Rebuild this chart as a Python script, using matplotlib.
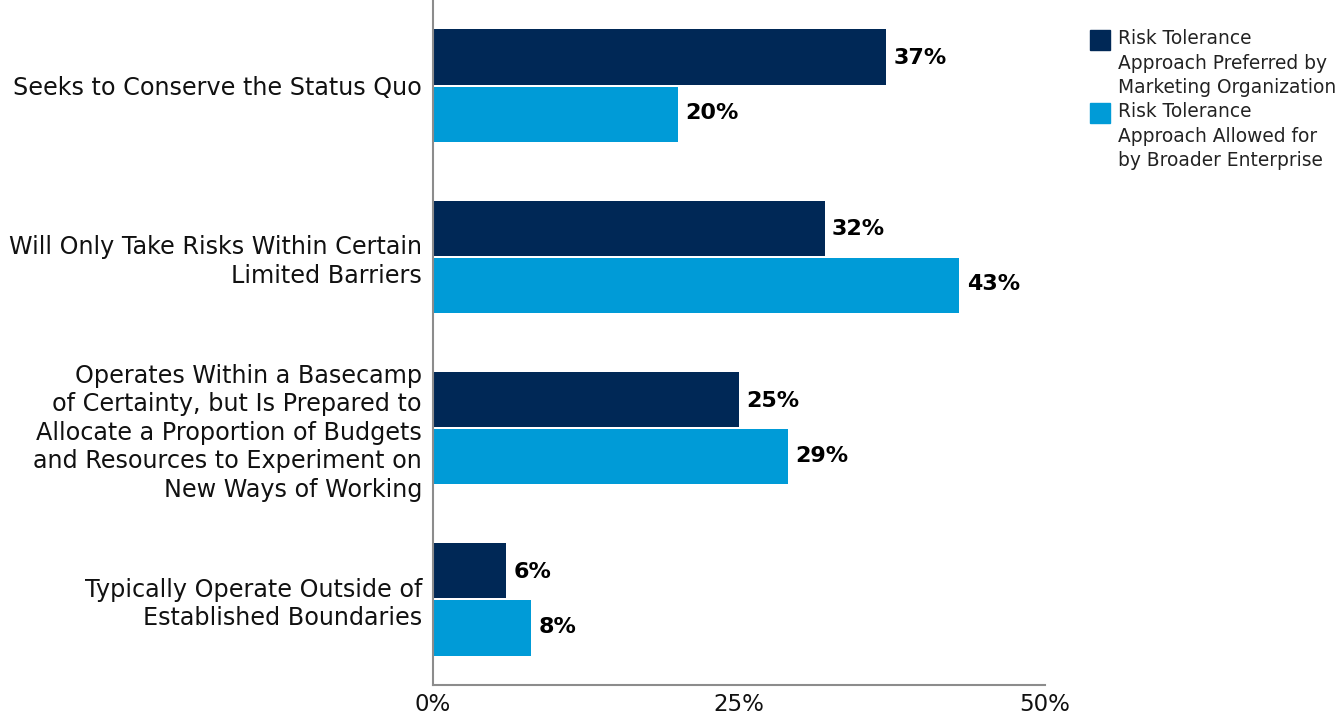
import numpy as np
import matplotlib.pyplot as plt
from matplotlib.patches import Rectangle

categories = [
    "Seeks to Conserve the Status Quo",
    "Will Only Take Risks Within Certain\nLimited Barriers",
    "Operates Within a Basecamp\nof Certainty, but Is Prepared to\nAllocate a Proportion of Budgets\nand Resources to Experiment on\nNew Ways of Working",
    "Typically Operate Outside of\nEstablished Boundaries",
]
preferred = [37, 32, 25, 6]
allowed = [20, 43, 29, 8]
series_names = [
    "Risk Tolerance\nApproach Preferred by\nMarketing Organization",
    "Risk Tolerance\nApproach Allowed for\nby Broader Enterprise",
]
xticks = [0, 25, 50]

dark = "#002856"
light = "#009bd7"

plt.rcParams['font.family'] = ['DejaVu Sans']

W, H = 1339, 717
fig = plt.figure(figsize=(W / 100, H / 100), dpi=100)
ax = fig.add_axes([433 / W, 32 / H, 612 / W, 685 / H])

y = np.arange(len(categories))
h = 0.322
ax.barh(y - h / 2 - 0.006, preferred, height=h, color=dark)
ax.barh(y + h / 2 + 0.006, allowed, height=h, color=light)

for yi, p, a in zip(y, preferred, allowed):
    ax.text(p + 0.6, yi - h / 2, f"{p}%", va="center", ha="left",
            fontsize=16, fontweight="bold", color="black")
    ax.text(a + 0.6, yi + h / 2, f"{a}%", va="center", ha="left",
            fontsize=16, fontweight="bold", color="black")

ax.set_ylim(len(categories) - 0.5, -0.5)
ax.set_xlim(0, 50)
ax.set_yticks(y)
ax.set_yticklabels(categories, fontsize=17.2, linespacing=1.24, color="#111111")
ax.set_xticks(xticks)
ax.set_xticklabels([f"{t}%" for t in xticks], fontsize=16.5, color="#111111")
ax.tick_params(axis="both", length=0)
ax.tick_params(axis="y", pad=8)
ax.tick_params(axis="x", pad=6)

for side in ["top", "right"]:
    ax.spines[side].set_visible(False)
for side in ["left", "bottom"]:
    ax.spines[side].set_color("#8c8c8c")
    ax.spines[side].set_linewidth(1.5)

# legend built by hand so the swatch sits beside the first line of text
for i, (name, col) in enumerate(zip(series_names, [dark, light])):
    top = 30 + i * 73
    fig.patches.append(Rectangle((1090 / W, 1 - (top + 20) / H), 20 / W, 20 / H,
                                 transform=fig.transFigure, color=col))
    fig.text(1118 / W, 1 - (top - 1) / H, name, ha="left", va="top",
             fontsize=13.4, linespacing=1.38, color="#222222")

fig.savefig("out.png", dpi=100)
